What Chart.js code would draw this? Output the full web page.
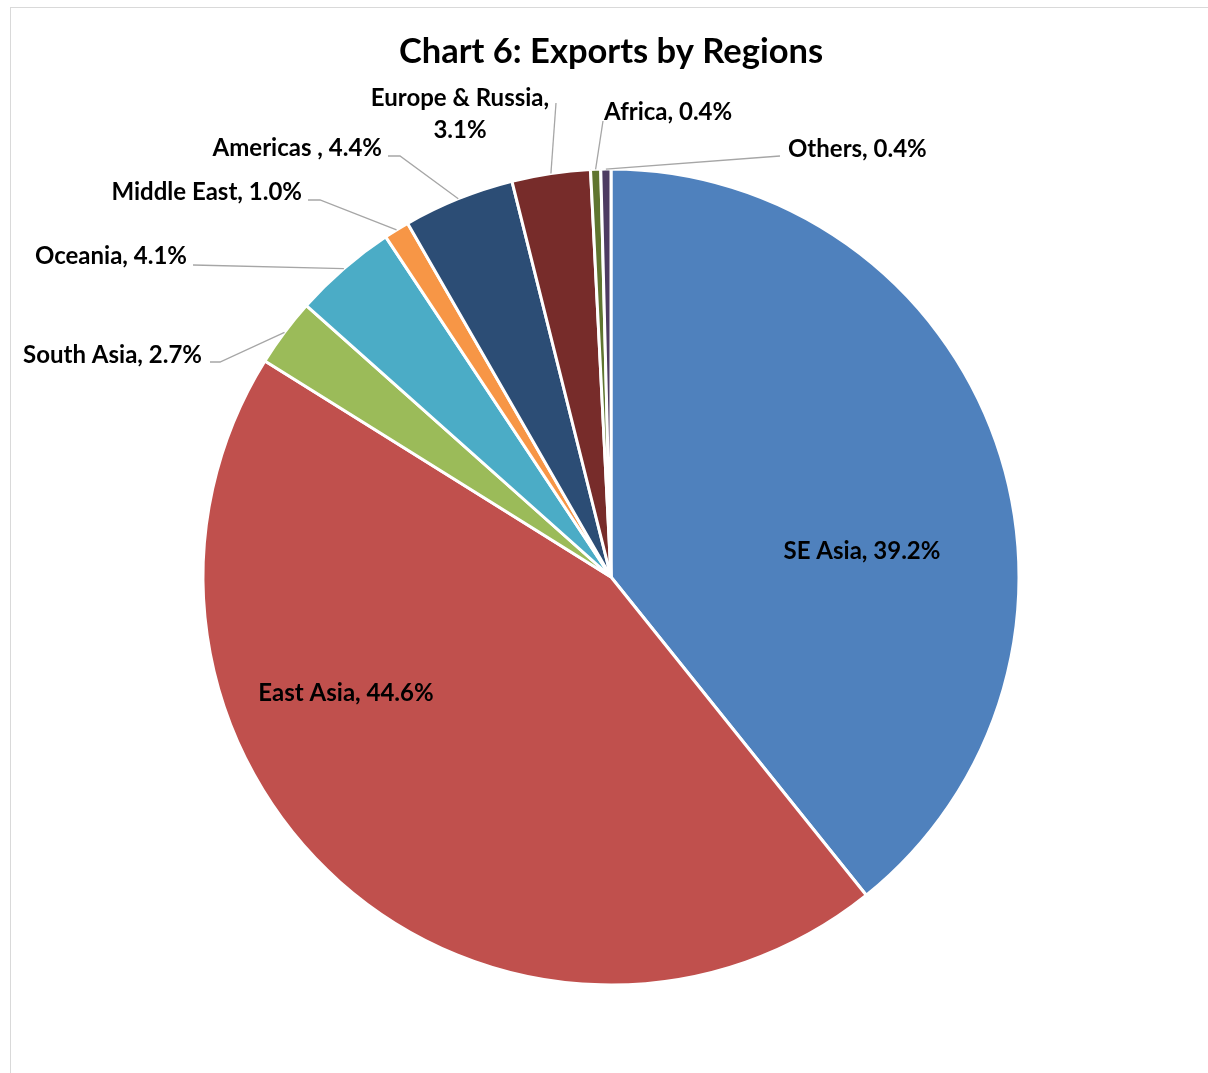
<!DOCTYPE html>
<html>
<head>
<meta charset="utf-8">
<script src="https://cdn.jsdelivr.net/npm/chart.js@4.4.0/dist/chart.umd.min.js"></script>
<style>
html,body{margin:0;padding:0;background:#fff;}
#wrap{width:1208px;height:1073px;position:relative;}
canvas{display:block;}
</style>
</head>
<body>
<div id="wrap"><canvas id="c" width="1208" height="1073"></canvas></div>
<script>
const categories = ["SE Asia", "East Asia", "South Asia", "Oceania", "Middle East", "Americas ", "Europe & Russia", "Africa", "Others"];
const shares = [39.2, 44.6, 2.7, 4.1, 1.0, 4.4, 3.1, 0.4, 0.4];
const sliceColors = ["#4F81BD", "#C0504D", "#9BBB59", "#4BACC6", "#F79646", "#2C4D75", "#772C2A", "#5F7530", "#4D3B62"];
const chartTitle = "Chart 6: Exports by Regions";

// label layout (text anchor & leader-line path after the slice edge point)
const labelLayout = [
  {x: 862, y: 551, align: "center", inside: true},
  {x: 346, y: 693, align: "center", inside: true},
  {x: 202, y: 355, align: "right", pts: [[220, 362], [210, 362]]},
  {x: 187, y: 256, align: "right", pts: [[193, 265]]},
  {x: 302, y: 192, align: "right", pts: [[320, 200], [308, 200]]},
  {x: 382, y: 148, align: "right", pts: [[400, 156], [388, 156]]},
  {x: 460, y: 98, align: "center", split: true, pts: [[556, 103]]},
  {x: 604, y: 112, align: "left", pts: [[603, 121]]},
  {x: 788, y: 149, align: "left", pts: [[780, 156]]}
];

const labelFont = "bold 24px Lato";

const labelPlugin = {
  id: "labels",
  afterDraw(chart) {
    const ctx = chart.ctx;
    ctx.save();
    // frame
    ctx.strokeStyle = "#d9d9d9";
    ctx.lineWidth = 1;
    ctx.strokeRect(10.5, 7.5, 1400, 1400);
    // title
    ctx.fillStyle = "#000";
    ctx.font = "bold 34.5px Lato";
    ctx.textAlign = "center";
    ctx.textBaseline = "middle";
    ctx.fillText(chartTitle, 611, 52);

    const meta = chart.getDatasetMeta(0);
    ctx.font = labelFont;
    meta.data.forEach((arc, i) => {
      const L = labelLayout[i];
      const pct = shares[i].toFixed(1) + "%";
      if (L.pts) {
        const p = arc.getProps(["x", "y", "startAngle", "endAngle", "outerRadius"], true);
        const mid = (p.startAngle + p.endAngle) / 2;
        const sx = p.x + Math.cos(mid) * p.outerRadius;
        const sy = p.y + Math.sin(mid) * p.outerRadius;
        ctx.strokeStyle = "#a6a6a6";
        ctx.lineWidth = 1.3;
        ctx.beginPath();
        ctx.moveTo(sx, sy);
        L.pts.forEach(q => ctx.lineTo(q[0], q[1]));
        ctx.stroke();
      }
      ctx.fillStyle = "#000";
      ctx.textAlign = L.align;
      ctx.textBaseline = "middle";
      if (L.split) {
        ctx.fillText(categories[i] + ",", L.x, L.y);
        ctx.fillText(pct, L.x, L.y + 32);
      } else {
        ctx.fillText(categories[i] + ", " + pct, L.x, L.y);
      }
    });
    ctx.restore();
  }
};

new Chart(document.getElementById("c"), {
  type: "pie",
  data: {
    labels: categories,
    datasets: [{
      data: shares,
      backgroundColor: sliceColors,
      borderColor: "#ffffff",
      borderWidth: 3
    }]
  },
  options: {
    responsive: false,
    animation: false,
    radius: 408,
    layout: {padding: {left: 203, right: 189, top: 169, bottom: 88}},
    plugins: {legend: {display: false}, tooltip: {enabled: false}, title: {display: false}}
  },
  plugins: [labelPlugin]
});
</script>
</body>
</html>
